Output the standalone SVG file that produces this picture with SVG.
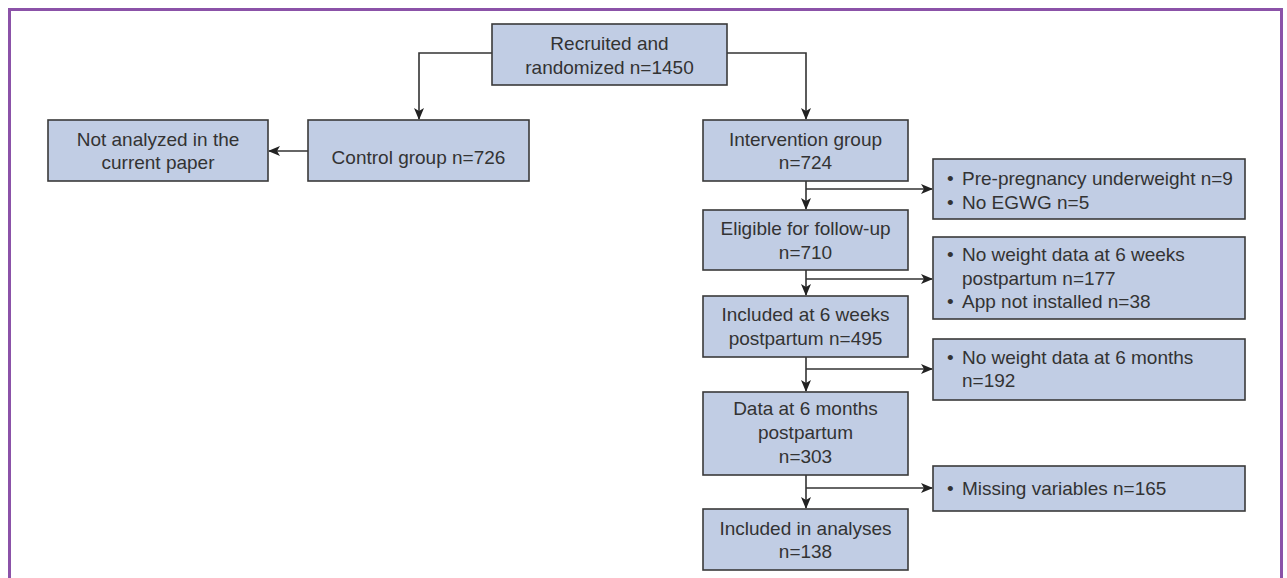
<svg xmlns="http://www.w3.org/2000/svg" width="1287" height="578" viewBox="0 0 1287 578">
<style>
.box{fill:#c1cde4;stroke:#3a3a3a;stroke-width:1.6}
.t{font-family:"Liberation Sans",Arial,sans-serif;font-size:19px;fill:#333}
.c{text-anchor:middle}
.ln{fill:none;stroke:#333;stroke-width:1.6}
</style>
<defs>
<marker id="ah" viewBox="0 0 12 10" refX="11" refY="5" markerWidth="12" markerHeight="10" markerUnits="userSpaceOnUse" orient="auto">
<path d="M0,0 L12,5 L0,10 L3,5 z" fill="#222"/>
</marker>
</defs>
<rect x="9.5" y="9.5" width="1272" height="600" fill="#fff" stroke="#8b52a8" stroke-width="3"/>
<g id="connectors">
<path class="ln" d="M492,53 H419 V119" marker-end="url(#ah)"/>
<path class="ln" d="M727,53 H806 V119" marker-end="url(#ah)"/>
<path class="ln" d="M308,151 H269" marker-end="url(#ah)"/>
<path class="ln" d="M806,181 V209" marker-end="url(#ah)"/>
<path class="ln" d="M806,189 H932" marker-end="url(#ah)"/>
<path class="ln" d="M806,270 V295" marker-end="url(#ah)"/>
<path class="ln" d="M806,279 H932" marker-end="url(#ah)"/>
<path class="ln" d="M806,357 V391" marker-end="url(#ah)"/>
<path class="ln" d="M806,369 H932" marker-end="url(#ah)"/>
<path class="ln" d="M806,475 V508" marker-end="url(#ah)"/>
<path class="ln" d="M806,488 H932" marker-end="url(#ah)"/>
</g>
<g id="recruited">
<rect class="box" x="492" y="24" width="235" height="61"/>
<text class="t c" x="609.5" y="50">Recruited and</text>
<text class="t c" x="609.5" y="74">randomized n=1450</text>
</g>
<g id="not-analyzed">
<rect class="box" x="48" y="120" width="220" height="61"/>
<text class="t c" x="158" y="146">Not analyzed in the</text>
<text class="t c" x="158" y="169">current paper</text>
</g>
<g id="control">
<rect class="box" x="308" y="120" width="221" height="61"/>
<text class="t c" x="418.5" y="164">Control group n=726</text>
</g>
<g id="intervention">
<rect class="box" x="703" y="120" width="205" height="61"/>
<text class="t c" x="805.5" y="146">Intervention group</text>
<text class="t c" x="805.5" y="169">n=724</text>
</g>
<g id="eligible">
<rect class="box" x="703" y="210" width="205" height="60"/>
<text class="t c" x="805.5" y="235">Eligible for follow-up</text>
<text class="t c" x="805.5" y="259">n=710</text>
</g>
<g id="included-6w">
<rect class="box" x="703" y="296" width="205" height="61"/>
<text class="t c" x="805.5" y="321">Included at 6 weeks</text>
<text class="t c" x="805.5" y="345">postpartum n=495</text>
</g>
<g id="data-6m">
<rect class="box" x="703" y="392" width="205" height="83"/>
<text class="t c" x="805.5" y="415">Data at 6 months</text>
<text class="t c" x="805.5" y="439">postpartum</text>
<text class="t c" x="805.5" y="463">n=303</text>
</g>
<g id="included-analyses">
<rect class="box" x="703" y="509" width="205" height="61"/>
<text class="t c" x="805.5" y="535">Included in analyses</text>
<text class="t c" x="805.5" y="558">n=138</text>
</g>
<g id="excl-1">
<rect class="box" x="933" y="159" width="312" height="60"/>
<text class="t" x="947" y="185">•</text><text class="t" x="962" y="185">Pre-pregnancy underweight n=9</text>
<text class="t" x="947" y="209">•</text><text class="t" x="962" y="209">No EGWG n=5</text>
</g>
<g id="excl-2">
<rect class="box" x="933" y="237" width="312" height="82"/>
<text class="t" x="947" y="261">•</text><text class="t" x="962" y="261">No weight data at 6 weeks</text>
<text class="t" x="962" y="285">postpartum n=177</text>
<text class="t" x="947" y="308">•</text><text class="t" x="962" y="308">App not installed n=38</text>
</g>
<g id="excl-3">
<rect class="box" x="933" y="339" width="312" height="61"/>
<text class="t" x="947" y="364">•</text><text class="t" x="962" y="364">No weight data at 6 months</text>
<text class="t" x="962" y="387">n=192</text>
</g>
<g id="excl-4">
<rect class="box" x="933" y="466" width="312" height="45"/>
<text class="t" x="947" y="495">•</text><text class="t" x="962" y="495">Missing variables n=165</text>
</g>
</svg>
